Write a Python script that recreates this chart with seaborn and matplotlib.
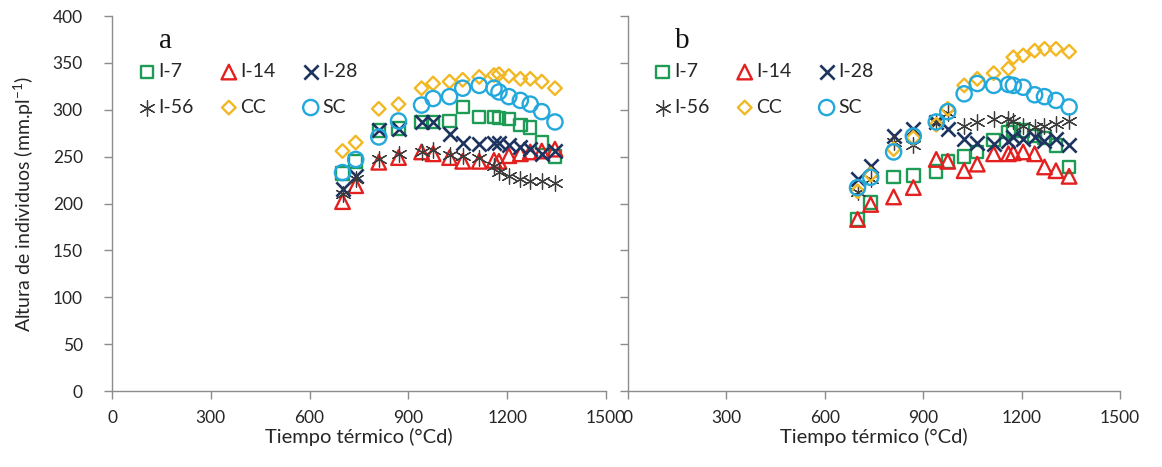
import matplotlib
matplotlib.use("Agg")
import matplotlib.pyplot as plt
import numpy as np
import pandas as pd
import seaborn as sns

# Thermal time (°Cd) of each sampling date
tiempo = [700, 740, 810, 870, 940, 975, 1025, 1065, 1115, 1160, 1175, 1205, 1240, 1270, 1305, 1345]

tratamientos = ["I-7", "I-14", "I-28", "I-56", "CC", "SC"]

# Plant height (mm per plant), panel a
a_i7 = [232, 245, 278, 280, 287, 287, 288, 303, 292, 292, 291, 290, 284, 281, 265, 250]
a_i14 = [202, 219, 244, 249, 255, 253, 249, 245, 245, 246, 245, 251, 253, 255, 256, 258]
a_i28 = [215, 229, 278, 280, 287, 287, 274, 265, 263, 265, 265, 262, 260, 258, 253, 256]
a_i56 = [210, 226, 247, 253, 255, 257, 252, 251, 249, 240, 234, 229, 226, 224, 224, 222]
a_cc = [256, 265, 301, 306, 323, 328, 330, 332, 335, 337, 338, 336, 333, 333, 330, 323]
a_sc = [233, 247, 271, 288, 305, 312, 314, 323, 326, 323, 319, 314, 310, 306, 298, 287]

# Plant height (mm per plant), panel b
b_i7 = [183, 201, 228, 230, 234, 245, 250, 255, 268, 276, 279, 278, 272, 270, 262, 239]
b_i14 = [183, 199, 207, 217, 247, 245, 235, 242, 253, 253, 254, 255, 253, 239, 235, 229]
b_i28 = [226, 240, 272, 280, 287, 280, 269, 265, 264, 267, 271, 269, 271, 267, 269, 262]
b_i56 = [212, 226, 266, 262, 287, 297, 283, 287, 290, 290, 288, 283, 282, 283, 285, 288]
b_cc = [213, 231, 258, 270, 284, 301, 326, 333, 339, 344, 356, 358, 363, 365, 365, 362]
b_sc = [217, 228, 255, 272, 287, 298, 317, 328, 326, 327, 326, 324, 316, 314, 310, 303]

paneles = ["a", "b"]
series = {
    "a": [a_i7, a_i14, a_i28, a_i56, a_cc, a_sc],
    "b": [b_i7, b_i14, b_i28, b_i56, b_cc, b_sc],
}

x_ticks = [0, 300, 600, 900, 1200, 1500]
y_ticks = [0, 50, 100, 150, 200, 250, 300, 350, 400]

rows = []
for p in paneles:
    for trat, vals in zip(tratamientos, series[p]):
        for t, v in zip(tiempo, vals):
            rows.append({"panel": p, "trat": trat, "tiempo": t, "altura": v})
df = pd.DataFrame(rows)

colores = {
    "I-7": "#1e9b55",
    "I-14": "#e3201f",
    "I-28": "#1d3461",
    "I-56": "#3c3c3c",
    "CC": "#f2b824",
    "SC": "#23a8dc",
}
# marker, size (pt^2), open face, edge width
marcadores = {
    "I-7": ("s", 80, True, 1.7),
    "I-14": ("^", 110, True, 1.7),
    "I-28": ("x", 105, False, 1.9),
    "I-56": ((6, 2, 0), 125, False, 0.9),
    "CC": ("D", 48, True, 1.7),
    "SC": ("o", 120, True, 1.7),
}

sns.set_theme(style="white")
plt.rcParams["font.family"] = ["Lato", "DejaVu Sans"]
plt.rcParams["mathtext.default"] = "regular"

fig = plt.figure(figsize=(11.62, 4.67), dpi=100)
ax_a = fig.add_axes([0.0964, 0.1627, 0.4251, 0.8030])
ax_b = fig.add_axes([0.5404, 0.1627, 0.4234, 0.8030])

gris = "#8c8c8c"
for p, ax in zip(paneles, [ax_a, ax_b]):
    sub = df[df["panel"] == p]
    handles = {}
    for trat in tratamientos:
        d = sub[sub["trat"] == trat]
        m, s, abierto, lw = marcadores[trat]
        kw = dict(marker=m, s=s, linewidth=lw, label=trat, legend=False)
        if abierto:
            kw.update(color=colores[trat], facecolor="none", edgecolor=colores[trat])
        else:
            kw.update(color=colores[trat])
        sns.scatterplot(data=d, x="tiempo", y="altura", ax=ax, **kw)
        handles[trat] = ax.collections[-1]

    ax.set_xlim(0, 1500)
    ax.set_ylim(0, 400)
    ax.set_xticks(x_ticks)
    ax.set_yticks(y_ticks)
    for side in ["top", "right"]:
        ax.spines[side].set_visible(False)
    for side in ["left", "bottom"]:
        ax.spines[side].set_color(gris)
        ax.spines[side].set_linewidth(1.0)
    ax.tick_params(axis="both", which="major", direction="out", length=6,
                   width=1.0, color=gris, labelsize=12.5, labelcolor="#262626",
                   bottom=True, left=True)
    ax.tick_params(axis="x", pad=8)
    ax.tick_params(axis="y", pad=15)
    ax.set_xlabel("Tiempo térmico (°Cd)", fontsize=14.5, color="#262626", labelpad=1)
    ax.set_ylabel("")

    orden = ["I-7", "I-56", "I-14", "CC", "I-28", "SC"]
    ax.legend([handles[k] for k in orden], orden, ncol=3, frameon=False,
              loc="upper left", bbox_to_anchor=(0.035, 0.895), fontsize=14,
              handletextpad=0.1, columnspacing=1.3, labelspacing=0.95,
              handlelength=1.0, scatterpoints=1, borderaxespad=0)
    ax.text(0.095, 0.915, p, transform=ax.transAxes, fontsize=21,
            family="Liberation Serif", color="#111111", va="baseline")

ax_a.set_ylabel("Altura de individuos (mm.pl$^{-1}$)", fontsize=14,
                color="#262626", labelpad=12)
ax_b.tick_params(axis="y", labelleft=False)

fig.savefig("out.png", dpi=100, facecolor="white")
